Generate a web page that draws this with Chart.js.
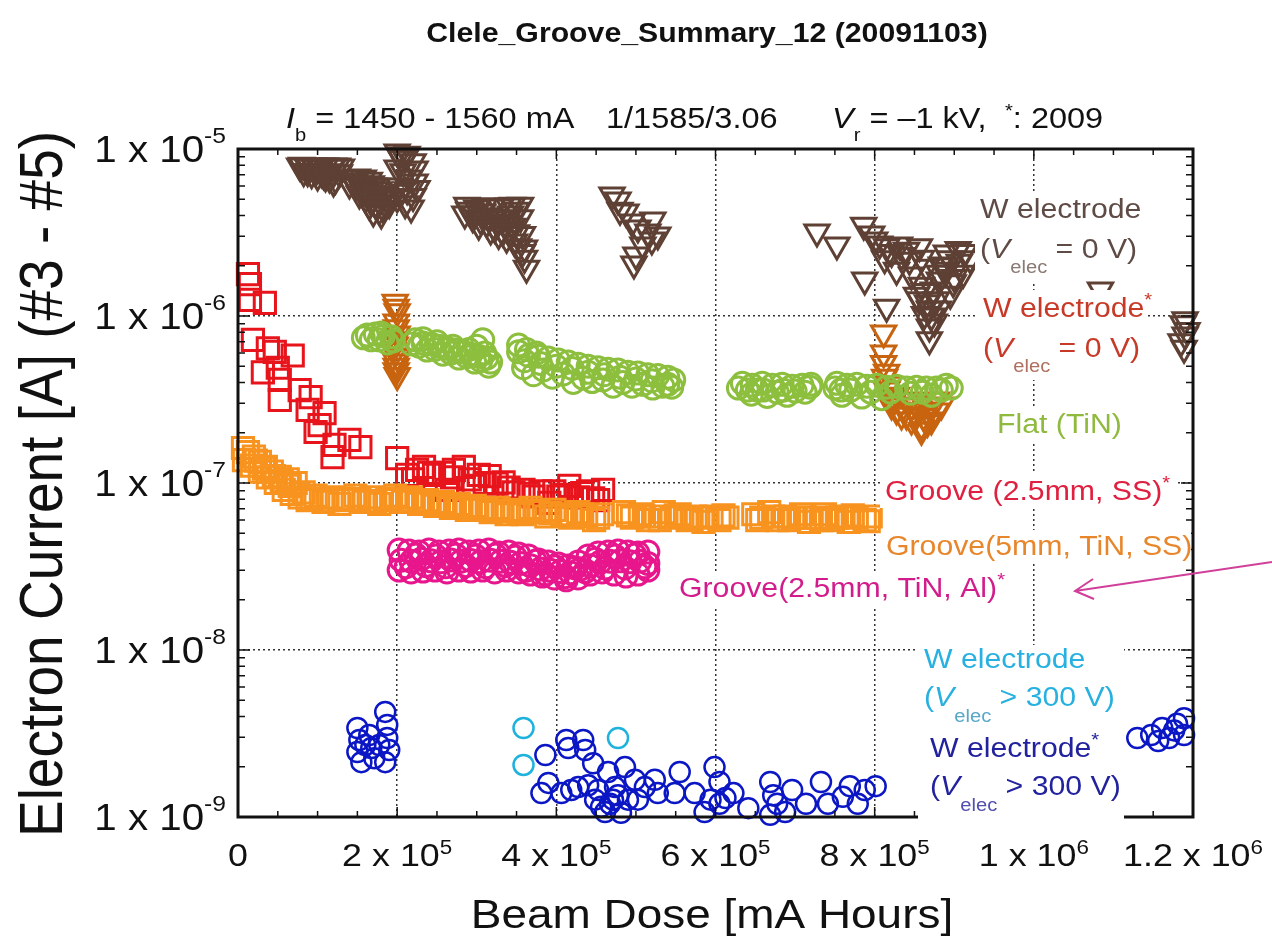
<!DOCTYPE html>
<html>
<head>
<meta charset="utf-8">
<script src="https://cdn.jsdelivr.net/npm/chart.js@4.4.0/dist/chart.umd.min.js"></script>
<style>
  html, body { margin: 0; padding: 0; background: #fff; }
  #wrap { width: 1272px; height: 937px; }
</style>
</head>
<body>
<div id="wrap"><canvas id="c" width="1272" height="937"></canvas></div>
<script>
// Electron current vs. beam dose, one array of [dose, current] per test piece

const wElecZero = [
  [80000,8.0e-6],[87500,7.8e-6],[95000,7.9e-6],[102500,7.7e-6],[110000,7.9e-6],[117500,7.8e-6],[125000,7.9e-6],
  [82500,7.3e-6],[92500,7.1e-6],[100000,6.9e-6],[107500,7.0e-6],[115000,6.7e-6],[120000,6.35e-6],[112500,7.3e-6],
  [77500,7.9e-6],[90000,7.9e-6],[97500,7.8e-6],[105000,7.9e-6],[120000,7.9e-6],[130000,7.8e-6],[87500,7.3e-6],
  [97500,7.3e-6],[105000,7.2e-6],[120000,7.2e-6],[127500,7.2e-6],[110000,6.8e-6],[122500,6.6e-6],
  [142500,6.7e-6],[150000,6.8e-6],[157500,6.7e-6],[165000,6.5e-6],[147500,6.0e-6],[155000,5.84e-6],[162500,5.7e-6],
  [170000,6.0e-6],[177500,5.7e-6],[185000,5.38e-6],[160000,5.09e-6],[167500,4.83e-6],[175000,4.56e-6],[182500,4.44e-6],
  [190000,4.7e-6],[170000,4.2e-6],[180000,4.08e-6],[192500,5.09e-6],[152500,5.38e-6],[140000,6.17e-6],
  [145000,6.4e-6],[152500,6.2e-6],[160000,6.1e-6],[167500,6.2e-6],[175000,6.0e-6],[157500,5.5e-6],[165000,5.4e-6],
  [172500,5.3e-6],[180000,5.2e-6],[187500,5.0e-6],[165000,4.6e-6],[172500,4.7e-6],[185000,4.7e-6],[177500,4.3e-6],
  [202500,9.2e-6],[210000,8.8e-6],[220000,8.4e-6],[200000,7.7e-6],[207500,7.3e-6],[215000,6.7e-6],[222500,6.35e-6],
  [202500,6.0e-6],[212500,5.7e-6],[220000,5.2e-6],[200000,5.1e-6],[210000,4.7e-6],[217500,4.44e-6],[205000,8.8e-6],
  [222500,7.6e-6],[225000,5.8e-6],[200000,9.6e-6],[212500,9.3e-6],[205000,5.5e-6],
  [290000,4.3e-6],[300000,4.44e-6],[310000,4.56e-6],[320000,4.56e-6],[330000,4.5e-6],[340000,4.56e-6],[350000,4.3e-6],
  [295000,3.87e-6],[305000,3.76e-6],[315000,3.98e-6],[325000,3.66e-6],[335000,3.55e-6],[345000,3.45e-6],[355000,3.87e-6],
  [317500,3.27e-6],[327500,3.08e-6],[337500,2.92e-6],[347500,2.77e-6],[357500,3.08e-6],[360000,2.55e-6],[360000,2.22e-6],
  [362500,1.93e-6],[285000,4.08e-6],[342500,4.08e-6],
  [287500,4.6e-6],[297500,4.1e-6],[307500,4.2e-6],[312500,3.6e-6],[322500,3.9e-6],[332500,3.85e-6],[340000,3.3e-6],
  [350000,3.15e-6],[345000,4.6e-6],[355000,4.6e-6],[302500,3.5e-6],[322500,3.35e-6],[332500,3.2e-6],[352500,2.6e-6],
  [357500,2.4e-6],
  [477500,4.95e-6],[487500,4.2e-6],[495000,3.66e-6],[502500,3.37e-6],[515000,3.18e-6],[520000,2.85e-6],[508750,2.66e-6],
  [500000,2.32e-6],[497500,2.05e-6],[480000,4.3e-6],[470000,5.3e-6],[527500,3.05e-6],[521250,3.76e-6],
  [727500,3.18e-6],[752500,2.66e-6],[786250,3.5e-6],[800000,2.85e-6],[815000,2.6e-6],[831250,2.66e-6],[856250,2.6e-6],
  [890000,2.38e-6],[911250,1.8e-6],[787500,1.64e-6],[815000,1.13e-6],[827500,1.88e-6],[865000,1.96e-6],[873750,1.43e-6],
  [868750,1.1e-6],[868750,8.6e-7],[868750,7.2e-7],[881250,1.64e-6],[898750,1.58e-6],[856250,1.25e-6],[843750,2.16e-6],
  [846250,1.76e-6],[858750,1.53e-6],[852500,1.33e-6],[862500,1.02e-6],[877500,1.25e-6],[883750,2.02e-6],[840000,2.48e-6],
  [858750,2.22e-6],[890000,1.88e-6],[875000,9.2e-7],[920000,2.2e-6],[905000,2.5e-6],
  [893750,2.2e-6],[887500,2.0e-6],[881250,1.8e-6],[900000,1.7e-6],[906250,2.1e-6],[912500,2.4e-6],[862500,1.4e-6],
  [866250,1.2e-6],[871250,1.0e-6],[880000,1.1e-6],[895000,1.35e-6],[833750,2.3e-6],[821250,2.4e-6],[812500,2.2e-6],
  [806250,2.7e-6],[796250,3.1e-6],
  [1083750,1.43e-6],
  [1187500,9.0e-7],[1190000,7.7e-7],[1185000,7.0e-7],[1192500,8.2e-7],[1188750,6.4e-7],[1190000,9.5e-7]
];

const wElecZeroStar = [
  [197500,1.21e-6],[200000,1.06e-6],[198750,9.2e-7],[200000,7.8e-7],[197500,6.7e-7],[200000,5.7e-7],[198750,5.0e-7],[200000,4.4e-7],
  [198750,1.13e-6],[198750,8.5e-7],[198750,7.2e-7],[198750,6.2e-7],[198750,5.3e-7],[198750,4.7e-7],
  [811250,7.9e-7],[811250,5.2e-7],[812500,4.3e-7],[815000,3.6e-7],[827500,3.35e-7],[840000,3.14e-7],[852500,2.93e-7],
  [865000,2.74e-7],[877500,3.14e-7],[821250,2.93e-7],[833750,2.55e-7],[846250,2.38e-7],[858750,2.22e-7],[871250,2.38e-7],
  [883750,2.93e-7],[827500,2.74e-7],[840000,2.55e-7],[852500,2.55e-7],[858750,2.07e-7],
  [818750,3.9e-7],[823750,3.3e-7],[836250,2.9e-7],[848750,2.7e-7],[861250,2.5e-7],[868750,2.9e-7],[877500,2.7e-7],
  [846250,2.9e-7],[866250,2.3e-7],[815000,4.6e-7],[811250,6.0e-7]
];

const flatTiN = [
  [162500,7.7e-7],[172500,7.8e-7],[182500,7.6e-7],[192500,7.5e-7],[167500,7.2e-7],[187500,6.9e-7],
  [157500,7.4e-7],[177500,7.2e-7],[195000,7.1e-7],[180000,7.9e-7],
  [222500,7.2e-7],[232500,6.9e-7],[242500,6.8e-7],[252500,6.6e-7],[262500,6.4e-7],[272500,6.25e-7],[282500,6.1e-7],
  [292500,5.9e-7],[302500,5.75e-7],[312500,5.6e-7],[237500,6.25e-7],[257500,5.9e-7],[277500,5.6e-7],[297500,5.3e-7],
  [315000,5.0e-7],[307500,7.2e-7],
  [227500,6.6e-7],[247500,6.3e-7],[267500,6.0e-7],[287500,5.7e-7],[305000,5.4e-7],[217500,6.8e-7],[232500,7.3e-7],
  [250000,7.0e-7],[270000,6.6e-7],[290000,6.3e-7],[310000,6.0e-7],[317500,5.3e-7],[300000,6.6e-7],
  [352500,6.1e-7],[365000,5.8e-7],[377500,5.75e-7],[390000,5.6e-7],[402500,5.45e-7],[415000,5.3e-7],[427500,5.15e-7],
  [440000,5.0e-7],[452500,4.9e-7],[465000,4.8e-7],[477500,4.75e-7],[490000,4.6e-7],[502500,4.55e-7],[515000,4.45e-7],
  [527500,4.4e-7],[540000,4.3e-7],[547500,4.14e-7],[358750,4.9e-7],[383750,4.75e-7],[408750,4.5e-7],[433750,4.25e-7],
  [458750,4.14e-7],[483750,4.0e-7],[508750,3.9e-7],[533750,3.8e-7],[371250,4.45e-7],[421250,4.0e-7],[471250,3.8e-7],
  [521250,3.7e-7],[352500,6.7e-7],
  [360000,5.4e-7],[380000,5.2e-7],[400000,5.0e-7],[420000,4.85e-7],[440000,4.6e-7],[460000,4.45e-7],[480000,4.3e-7],
  [500000,4.2e-7],[520000,4.1e-7],[540000,3.9e-7],[395000,4.3e-7],[445000,4.05e-7],[495000,3.8e-7],[545000,3.75e-7],
  [362500,6.3e-7],[375000,6.0e-7],
  [633750,3.95e-7],[646250,3.85e-7],[658750,3.95e-7],[671250,3.85e-7],[683750,3.9e-7],[696250,3.8e-7],[708750,3.85e-7],
  [718750,3.75e-7],[640000,3.6e-7],[665000,3.3e-7],[690000,3.35e-7],[652500,3.6e-7],[677500,3.5e-7],
  [628750,3.7e-7],[645000,3.4e-7],[660000,3.6e-7],[685000,3.6e-7],[700000,3.55e-7],[712500,3.5e-7],[720000,3.9e-7],
  [752500,3.95e-7],[765000,3.85e-7],[777500,3.9e-7],[790000,3.8e-7],[802500,3.85e-7],[815000,3.75e-7],[827500,3.8e-7],
  [840000,3.7e-7],[852500,3.75e-7],[865000,3.7e-7],[877500,3.7e-7],[883750,3.6e-7],[758750,3.35e-7],[783750,3.27e-7],
  [808750,3.2e-7],[871250,3.35e-7],
  [757500,3.6e-7],[770000,3.6e-7],[795000,3.5e-7],[820000,3.5e-7],[845000,3.45e-7],[860000,3.5e-7],[890000,3.85e-7],
  [896250,3.7e-7],[750000,3.7e-7]
];

const grooveSS = [
  [12500,1.78e-6],[15000,1.55e-6],[15000,1.25e-6],[33750,1.2e-6],[18750,7.2e-7],[37500,6.4e-7],[46250,6.1e-7],
  [68750,5.8e-7],[31250,4.6e-7],[50000,4.9e-7],[52500,4.14e-7],[52500,3.14e-7],[91250,3.27e-7],[77500,3.6e-7],
  [87500,2.74e-7],[108750,2.62e-7],[97500,2.02e-7],[102500,2.22e-7],[121250,1.69e-7],[118750,1.43e-7],[153750,1.64e-7],
  [140000,1.81e-7],[200000,1.41e-7],[212500,1.12e-7],[225000,1.2e-7],[233750,1.25e-7],[246250,1.12e-7],[258750,1.15e-7],
  [262500,9.1e-8],[271250,1.2e-7],[283750,1.25e-7],[291250,1.05e-7],[302500,1.12e-7],[316250,1.1e-7],[325000,9.9e-8],
  [333750,1.01e-7],[346250,8.8e-8],[358750,9.1e-8],[371250,8.3e-8],[380000,8.9e-8],[391250,7.6e-8],[402500,8.3e-8],
  [416250,9.6e-8],[427500,8.2e-8],[440000,8.9e-8],[452500,7.9e-8],[458750,9.1e-8],
  [220000,1.05e-7],[240000,1.15e-7],[268750,1.08e-7],[296250,9.6e-8],[310000,1.0e-7],[340000,9.4e-8],[365000,8.6e-8],
  [397500,8.9e-8],[410000,8.5e-8],[432500,8.7e-8],[446250,8.1e-8]
];

const grooveTiNSS = [
  [6250,1.62e-7],[12500,1.53e-7],[20000,1.44e-7],[27500,1.34e-7],[35000,1.25e-7],[42500,1.17e-7],[52500,1.09e-7],
  [62500,1.05e-7],[72500,1.0e-7],[7500,1.37e-7],[17500,1.27e-7],[27500,1.17e-7],[37500,1.08e-7],[47500,1.0e-7],
  [57500,9.1e-8],[67500,8.6e-8],[77500,8.2e-8],[87500,7.9e-8],[97500,8.4e-8],[107500,7.7e-8],[117500,8.2e-8],
  [127500,7.5e-8],[137500,7.9e-8],[147500,8.4e-8],[157500,7.7e-8],[167500,8.2e-8],[177500,7.5e-8],[187500,7.9e-8],
  [197500,8.4e-8],[207500,7.7e-8],[217500,8.2e-8],[227500,7.5e-8],[237500,7.9e-8],[247500,7.3e-8],[257500,7.7e-8],
  [267500,7.1e-8],[277500,7.5e-8],[287500,6.9e-8],[297500,7.3e-8],[307500,6.9e-8],[317500,6.7e-8],[327500,7.1e-8],
  [337500,6.5e-8],[347500,6.9e-8],[357500,6.5e-8],[367500,7.1e-8],[377500,6.7e-8],[387500,6.3e-8],[397500,6.9e-8],
  [407500,6.5e-8],[417500,6.2e-8],[427500,6.7e-8],[437500,6.3e-8],[447500,6.0e-8],[457500,6.5e-8],
  [22500,1.36e-7],[32500,1.22e-7],[45000,1.1e-7],[55000,1.03e-7],[65000,9.6e-8],[82500,8.8e-8],[92500,8.1e-8],
  [112500,7.9e-8],[132500,8.1e-8],[152500,8.0e-8],[172500,7.8e-8],[192500,8.1e-8],[212500,7.9e-8],[232500,7.7e-8],
  [252500,7.5e-8],[272500,7.3e-8],[292500,7.1e-8],[312500,7.0e-8],[332500,6.8e-8],[352500,6.7e-8],[372500,6.8e-8],
  [392500,6.6e-8],[412500,6.4e-8],[432500,6.5e-8],[452500,6.2e-8],
  [485000,6.7e-8],[495000,6.2e-8],[505000,6.5e-8],[515000,6.0e-8],[525000,6.3e-8],[535000,6.7e-8],[545000,6.2e-8],
  [555000,6.5e-8],[565000,6.0e-8],[575000,6.3e-8],[585000,5.85e-8],[595000,6.3e-8],[605000,6.0e-8],[615000,6.2e-8],
  [490000,6.4e-8],[510000,6.3e-8],[530000,6.0e-8],[550000,6.4e-8],[570000,6.1e-8],[590000,6.2e-8],[610000,6.4e-8],
  [647500,6.5e-8],[657500,6.2e-8],[667500,6.7e-8],[677500,6.0e-8],[687500,6.3e-8],[697500,6.2e-8],[707500,6.5e-8],
  [717500,5.85e-8],[727500,6.2e-8],[737500,6.5e-8],[747500,6.0e-8],[757500,6.3e-8],[767500,5.85e-8],[777500,6.2e-8],
  [787500,6.0e-8],[795000,6.3e-8],
  [652500,6.0e-8],[672500,6.3e-8],[692500,6.0e-8],[712500,6.2e-8],[732500,6.0e-8],[752500,6.2e-8],[772500,6.4e-8],
  [792500,5.9e-8]
];

const grooveAl = [
  [202500,3.97e-8],[215000,3.92e-8],[227500,3.86e-8],[240000,3.97e-8],[252500,3.86e-8],[265000,3.92e-8],[277500,3.97e-8],
  [290000,3.86e-8],[302500,3.92e-8],[315000,3.97e-8],[327500,3.81e-8],[340000,3.86e-8],[352500,3.76e-8],[365000,3.66e-8],
  [377500,3.46e-8],[390000,3.36e-8],[402500,3.27e-8],[415000,3.18e-8],[427500,3.36e-8],[440000,3.66e-8],[452500,3.81e-8],
  [465000,3.86e-8],[477500,3.92e-8],[490000,3.86e-8],[502500,3.81e-8],[515000,3.86e-8],
  [202500,3.01e-8],[217500,2.93e-8],[232500,2.97e-8],[247500,3.01e-8],[262500,2.93e-8],[277500,3.01e-8],[292500,2.97e-8],
  [307500,3.01e-8],[322500,2.93e-8],[337500,3.01e-8],[352500,2.93e-8],[367500,2.85e-8],[382500,2.77e-8],[397500,2.7e-8],
  [412500,2.63e-8],[427500,2.7e-8],[442500,2.85e-8],[457500,2.93e-8],[472500,2.85e-8],[487500,2.77e-8],[502500,2.85e-8],
  [515000,3.01e-8],
  [205000,3.45e-8],[217500,3.4e-8],[230000,3.5e-8],[242500,3.42e-8],[255000,3.38e-8],[267500,3.46e-8],[280000,3.4e-8],
  [292500,3.44e-8],[305000,3.38e-8],[317500,3.45e-8],[330000,3.4e-8],[342500,3.35e-8],[355000,3.3e-8],[367500,3.2e-8],
  [380000,3.05e-8],[392500,3.0e-8],[405000,2.95e-8],[417500,2.9e-8],[430000,3.05e-8],[442500,3.2e-8],[455000,3.35e-8],
  [467500,3.4e-8],[480000,3.42e-8],[492500,3.38e-8],[505000,3.4e-8],[515000,3.3e-8],
  [211250,3.15e-8],[236250,3.2e-8],[261250,3.15e-8],[286250,3.2e-8],[311250,3.15e-8],[336250,3.2e-8],[361250,3.0e-8],
  [386250,2.85e-8],[411250,2.75e-8],[436250,2.95e-8],[461250,3.1e-8],[486250,3.1e-8],[511250,3.15e-8],[223750,3.7e-8],
  [248750,3.65e-8],[273750,3.7e-8],[298750,3.65e-8],[323750,3.7e-8],[348750,3.6e-8],[373750,3.4e-8],[398750,3.15e-8],
  [423750,3.1e-8],[448750,3.5e-8],[473750,3.65e-8],[498750,3.7e-8]
];

const wElecHV = [[358750,3.41e-9],[358750,2.05e-9],[477500,2.97e-9]];

const wElecHVStar = [
  [150000,3.41e-9],[152500,2.89e-9],[150000,2.45e-9],[155000,2.13e-9],[165000,3.1e-9],[167500,2.59e-9],[171250,2.25e-9],
  [185000,4.26e-9],[187500,3.56e-9],[187500,2.97e-9],[190000,2.52e-9],[185000,2.13e-9],[177500,2.7e-9],[160000,2.7e-9],
  [386250,2.35e-9],[381250,1.39e-9],[412500,2.89e-9],[415000,2.59e-9],[433750,2.89e-9],[436250,2.52e-9],[446250,2.1e-9],
  [465000,1.86e-9],[486250,1.99e-9],[555000,1.86e-9],[598750,1.99e-9],[406250,1.39e-9],[427500,1.51e-9],[448750,1.27e-9],
  [461250,1.07e-9],[481250,1.06e-9],[490000,1.27e-9],[498750,1.67e-9],[511250,1.51e-9],[527500,1.39e-9],[548750,1.39e-9],
  [573750,1.39e-9],[593750,1.27e-9],[390000,1.6e-9],[473750,1.51e-9],[523750,1.67e-9],[471250,1.27e-9],[452500,1.45e-9],
  [477500,1.35e-9],[502500,1.27e-9],[456250,1.15e-9],[467500,1.2e-9],[440000,1.55e-9],[418750,1.45e-9],
  [586250,1.07e-9],[605000,1.62e-9],[622500,1.39e-9],[641250,1.13e-9],[605000,1.2e-9],[668750,1.62e-9],[677500,1.2e-9],
  [668750,1.03e-9],[696250,1.45e-9],[713750,1.2e-9],[732500,1.62e-9],[741250,1.2e-9],[768750,1.53e-9],[787500,1.45e-9],
  [778750,1.2e-9],[801250,1.53e-9],[760000,1.32e-9],[687500,1.07e-9],[672500,1.35e-9],[612500,1.3e-9],
  [1130000,2.97e-9],[1147500,3.1e-9],[1161250,3.41e-9],[1180000,3.62e-9],[1188750,3.9e-9],[1170000,2.97e-9],
  [1188750,3.1e-9],[1156250,2.85e-9],[1176250,3.3e-9]
];

// axes
const xTickVals = [0, 2e5, 4e5, 6e5, 8e5, 1e6, 1.2e6];
const xTickText = [['0', ''], ['2 x 10', '5'], ['4 x 10', '5'], ['6 x 10', '5'], ['8 x 10', '5'], ['1 x 10', '6'], ['1.2 x 10', '6']];
const yTickVals = [1e-9, 1e-8, 1e-7, 1e-6, 1e-5];
const yTickText = [['1 x 10', '-9'], ['1 x 10', '-8'], ['1 x 10', '-7'], ['1 x 10', '-6'], ['1 x 10', '-5']];

const FONT = '"Liberation Sans", Arial, sans-serif';
const HX = 1.12; // glyphs are drawn a little wide

function pts(arr) { return arr.map(p => ({ x: p[0], y: p[1] })); }

function series(label, arr, color, shape, r, bw, rot) {
  return {
    label, data: pts(arr), pointStyle: shape, pointRadius: r, pointHoverRadius: r,
    pointBorderColor: color, pointBackgroundColor: 'rgba(255,255,255,0)', pointBorderWidth: bw,
    pointRotation: rot || 0, showLine: false, clip: false
  };
}

// draw a line made of runs: {t, size, style, dy, color}
function rich(ctx, x, y, parts, align, color) {
  let w = 0;
  parts.forEach(p => {
    ctx.font = (p.style || '') + ' ' + p.size + 'px ' + FONT;
    p.w = ctx.measureText(p.t).width * HX;
    w += p.w;
  });
  let cx = align === 'center' ? x - w / 2 : align === 'right' ? x - w : x;
  parts.forEach(p => {
    ctx.save();
    ctx.translate(cx, y + (p.dy || 0));
    ctx.scale(HX, 1);
    ctx.font = (p.style || '') + ' ' + p.size + 'px ' + FONT;
    ctx.fillStyle = p.color || color;
    ctx.textAlign = 'left';
    ctx.textBaseline = 'alphabetic';
    ctx.fillText(p.t, 0, 0);
    ctx.restore();
    cx += p.w;
  });
}

const LS = 27, SUB = 18;
const notes = [
  { box: [975, 192, 1145, 281], color: '#5f4b45', lines: [
    [980, 218, [{ t: 'W electrode', size: LS }]],
    [980, 258, [{ t: '(', size: LS }, { t: 'V', size: LS, style: 'italic' }, { t: 'elec', size: SUB, dy: 15, color: '#8a7a74' }, { t: ' = 0 V)', size: LS }]]
  ]},
  { box: [978, 290, 1148, 380], color: '#c83a28', lines: [
    [983, 317, [{ t: 'W electrode', size: LS }, { t: '*', size: SUB, dy: -11 }]],
    [983, 357, [{ t: '(', size: LS }, { t: 'V', size: LS, style: 'italic' }, { t: 'elec', size: SUB, dy: 15, color: '#b07060' }, { t: ' = 0 V)', size: LS }]]
  ]},
  { box: [992, 408, 1122, 442], color: '#8fba3e', lines: [
    [997, 433, [{ t: 'Flat (TiN)', size: LS }]]
  ]},
  { box: [880, 474, 1176, 508], color: '#e02040', lines: [
    [885, 500, [{ t: 'Groove (2.5mm, SS)', size: LS }, { t: '*', size: SUB, dy: -11 }]]
  ]},
  { box: [886, 530, 1191, 564], color: '#e8862c', lines: [
    [886, 555, [{ t: 'Groove(5mm, TiN, SS)', size: LS }]]
  ]},
  { box: [675, 574, 1012, 606], color: '#d21c8c', lines: [
    [679, 597, [{ t: 'Groove(2.5mm, TiN, Al)', size: LS }, { t: '*', size: SUB, dy: -11 }]]
  ]},
  { box: [918, 645, 1124, 732], color: '#27b0e0', lines: [
    [924, 668, [{ t: 'W electrode', size: LS }]],
    [924, 706, [{ t: '(', size: LS }, { t: 'V', size: LS, style: 'italic' }, { t: 'elec', size: SUB, dy: 16, color: '#5aa8c8' }, { t: ' > 300 V)', size: LS }]]
  ]},
  { box: [918, 732, 1124, 832], color: '#22229e', lines: [
    [930, 757, [{ t: 'W electrode', size: LS }, { t: '*', size: SUB, dy: -11 }]],
    [930, 795, [{ t: '(', size: LS }, { t: 'V', size: LS, style: 'italic' }, { t: 'elec', size: SUB, dy: 16, color: '#5050b0' }, { t: ' > 300 V)', size: LS }]]
  ]}
];

const decor = {
  id: 'decor',
  afterDatasetsDraw(chart) {
    const { ctx, chartArea: a, scales: { x, y } } = chart;
    ctx.save();
    // frame with inward ticks on all four sides
    ctx.strokeStyle = '#111';
    ctx.lineWidth = 1.5;
    ctx.beginPath();
    for (let v = 0; v <= 1.2e6 + 1; v += 5e4) {
      const px = x.getPixelForValue(v);
      const len = (v % 2e5 === 0) ? 10 : 6;
      ctx.moveTo(px, a.bottom); ctx.lineTo(px, a.bottom - len);
      ctx.moveTo(px, a.top); ctx.lineTo(px, a.top + len);
    }
    for (let e = -9; e < -5; e++) {
      for (let m = 1; m <= 9; m++) {
        const py = y.getPixelForValue(m * Math.pow(10, e));
        const len = m === 1 ? 12 : 7;
        ctx.moveTo(a.left, py); ctx.lineTo(a.left + len, py);
        ctx.moveTo(a.right, py); ctx.lineTo(a.right - len, py);
      }
    }
    ctx.stroke();
    ctx.lineWidth = 3;
    ctx.strokeRect(a.left, a.top, a.right - a.left, a.bottom - a.top);

    // series notes on white patches
    notes.forEach(n => {
      ctx.fillStyle = '#fff';
      ctx.fillRect(n.box[0], n.box[1], n.box[2] - n.box[0], n.box[3] - n.box[1]);
      n.lines.forEach(l => rich(ctx, l[0], l[1], l[2], 'left', n.color));
    });

    // pointer at the lower right
    ctx.strokeStyle = '#d0409a';
    ctx.lineWidth = 2;
    ctx.beginPath();
    ctx.moveTo(1272, 562); ctx.lineTo(1075, 591);
    ctx.moveTo(1093, 579); ctx.lineTo(1075, 591); ctx.lineTo(1094, 599);
    ctx.stroke();
    ctx.restore();
  },
  afterDraw(chart) {
    const { ctx, scales: { x, y } } = chart;
    ctx.save();
    // tick labels
    xTickVals.forEach((v, i) => {
      const [base, sup] = xTickText[i];
      const parts = [{ t: base, size: 32 }];
      if (sup) parts.push({ t: sup, size: 20, dy: -12 });
      rich(ctx, x.getPixelForValue(v), 866, parts, 'center', '#111');
    });
    yTickVals.forEach((v, i) => {
      const [base, sup] = yTickText[i];
      const py = y.getPixelForValue(v);
      rich(ctx, 226, py + 13, [{ t: base, size: 36 }, { t: sup, size: 22, dy: -19 }], 'right', '#111');
    });

    // titles
    rich(ctx, 707, 42, [{ t: 'Clele_Groove_Summary_12 (20091103)', size: 27, style: 'bold' }], 'center', '#111');
    rich(ctx, 286, 128, [
      { t: 'I', size: 29, style: 'italic' }, { t: 'b', size: SUB, dy: 13 }, { t: ' = 1450 - 1560 mA', size: 29 }
    ], 'left', '#111');
    rich(ctx, 606, 128, [{ t: '1/1585/3.06', size: 29 }], 'left', '#111');
    rich(ctx, 832, 128, [
      { t: 'V', size: 29, style: 'italic' }, { t: 'r', size: SUB, dy: 13 }, { t: ' = \u20131 kV,', size: 29 }
    ], 'left', '#111');
    rich(ctx, 1005, 128, [{ t: '*', size: SUB, dy: -11 }, { t: ': 2009', size: 29 }], 'left', '#111');

    rich(ctx, 712, 928, [{ t: 'Beam Dose [mA Hours]', size: 41 }], 'center', '#111');

    ctx.translate(62, 484);
    ctx.rotate(-Math.PI / 2);
    ctx.scale(1, HX);
    ctx.font = '55px ' + FONT;
    ctx.fillStyle = '#111';
    ctx.textAlign = 'center';
    ctx.textBaseline = 'alphabetic';
    ctx.fillText('Electron Current [A] (#3 - #5)', 0, 0);
    ctx.restore();
  }
};

Chart.defaults.font.family = FONT;

new Chart(document.getElementById('c'), {
  type: 'scatter',
  data: {
    datasets: [
      series('Flat (TiN)', flatTiN, '#8dbf3e', 'circle', 11, 3),
      series('Groove(5mm, TiN, SS)', grooveTiNSS, '#f7931e', 'rect', 15, 3),
      series('Groove (2.5mm, SS)*', grooveSS, '#e8141c', 'rect', 15, 3),
      series('Groove(2.5mm, TiN, Al)*', grooveAl, '#e8168c', 'circle', 11, 3),
      series('W electrode (Velec = 0 V)', wElecZero, '#5e4034', 'triangle', 14, 3, 180),
      series('W electrode* (Velec = 0 V)', wElecZeroStar, '#c8640f', 'triangle', 14, 3, 180),
      series('W electrode (Velec > 300 V)', wElecHV, '#1eb2dc', 'circle', 10, 2.5),
      series('W electrode* (Velec > 300 V)', wElecHVStar, '#0b16c4', 'circle', 10, 2.5)
    ]
  },
  options: {
    responsive: false,
    devicePixelRatio: 1,
    animation: false,
    events: [],
    layout: { padding: { left: 238, top: 149, right: 79, bottom: 120 } },
    plugins: { legend: { display: false }, tooltip: { enabled: false }, title: { display: false } },
    scales: {
      x: {
        type: 'linear', min: 0, max: 1.2e6,
        afterBuildTicks: s => { s.ticks = xTickVals.map(v => ({ value: v })); },
        ticks: { display: false },
        grid: { color: '#333', lineWidth: 1.5, drawTicks: false },
        border: { display: false, dash: [2, 3] }
      },
      y: {
        type: 'logarithmic', min: 1e-9, max: 1e-5,
        afterBuildTicks: s => { s.ticks = yTickVals.map(v => ({ value: v })); },
        ticks: { display: false },
        grid: { color: '#333', lineWidth: 1.5, drawTicks: false },
        border: { display: false, dash: [2, 3] }
      }
    }
  },
  plugins: [decor]
});
</script>
</body>
</html>
